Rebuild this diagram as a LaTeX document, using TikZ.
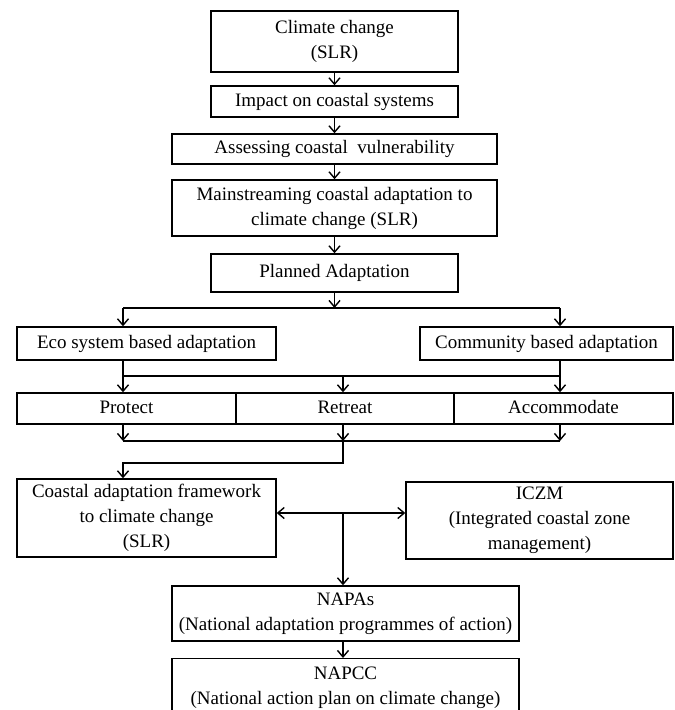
\documentclass[tikz,border=0pt]{standalone}
\usepackage{fontspec}
\setmainfont{Liberation Serif}
\usetikzlibrary{arrows.meta}
\tikzset{
  txt/.style={font=\fontsize{19}{25}\selectfont},
  box/.style={draw, line width=1.4pt, align=center, inner sep=0pt, txt},
  one/.style={text height=13pt, text depth=4pt},
  arr/.style={line width=1.4pt, -{Straight Barb[length=6.5pt,width=11pt,line width=1.4pt]}},
  ln/.style={line width=1.4pt}
}
\begin{document}
\begin{tikzpicture}[x=1pt,y=-1pt]
\useasboundingbox (0,0) rectangle (675,710);
\clip (0,0) rectangle (675,710);
\fill[white] (0,0) rectangle (675,710);
% boxes
\node[box, minimum width=247pt, minimum height=61pt] (cc) at (334.5,41.5) {Climate change\\(SLR)};
\node[box, one, minimum width=247pt, minimum height=31pt] (imp) at (334.5,101.5) {Impact on coastal systems};
\node[box, one, minimum width=325pt, minimum height=30pt] (ass) at (334.5,149) {Assessing coastal\ \ vulnerability};
\node[box, minimum width=325pt, minimum height=56pt] (main) at (334.5,208) {Mainstreaming coastal adaptation to\\climate change (SLR)};
\node[box, one, minimum width=247pt, minimum height=38pt] (plan) at (334.5,273) {Planned Adaptation};
\node[box, one, minimum width=259pt, minimum height=33pt] (eco) at (146.5,343.5) {Eco system based adaptation};
\node[box, one, minimum width=253pt, minimum height=33pt] (com) at (546.5,343.5) {Community based adaptation};
\node[box, one, minimum width=219pt, minimum height=31pt] (prot) at (126.5,408.5) {Protect};
\node[box, one, minimum width=218pt, minimum height=31pt] (retr) at (345,408.5) {Retreat};
\node[box, one, minimum width=219pt, minimum height=31pt] (acc) at (563.5,408.5) {Accommodate};
\node[box, minimum width=259pt, minimum height=78pt] (caf) at (146.5,518) {Coastal adaptation framework\\to climate change\\(SLR)};
\node[box, minimum width=267pt, minimum height=77pt] (iczm) at (539.5,520.5) {ICZM\\(Integrated coastal zone\\management)};
\node[box, minimum width=347pt, minimum height=55pt] (napa) at (345.5,613.5) {NAPAs\\(National adaptation programmes of action)};
\node[box, minimum width=347pt, minimum height=62pt, anchor=north] (napcc) at (345.5,658) {};
\node[txt, align=center, anchor=north] (napcct) at (345.5,663) {NAPCC\\(National action plan on climate change)};
% helper coordinates
\coordinate (y1) at (0,308);
\coordinate (y2) at (0,376);
\coordinate (y3) at (0,441);
\coordinate (y4) at (0,463);
\coordinate (xL) at (123,0);
\coordinate (xM) at (343,0);
\coordinate (xR) at (560,0);
\coordinate (dj) at (343,513);
% connectors
\draw[arr] (cc) -- (imp);
\draw[arr] (imp) -- (ass);
\draw[arr] (ass) -- (main);
\draw[arr] (main) -- (plan);
\draw[arr] (plan.south) -- (plan.south |- y1);
\draw[ln] (xL |- y1) -- (xR |- y1);
\draw[arr] (xL |- y1) -- (xL |- eco.north);
\draw[arr] (xR |- y1) -- (xR |- com.north);
\draw[arr] (xL |- eco.south) -- (xL |- prot.north);
\draw[arr] (xR |- com.south) -- (xR |- acc.north);
\draw[ln] (xL |- y2) -- (xR |- y2);
\draw[arr] (xM |- y2) -- (xM |- retr.north);
\draw[arr] (xL |- prot.south) -- (xL |- y3);
\draw[arr] (xM |- retr.south) -- (xM |- y3);
\draw[arr] (xR |- acc.south) -- (xR |- y3);
\draw[ln] (xL |- y3) -- (xR |- y3);
\draw[arr] (xM |- y3) -- (xM |- y4) -- (xL |- y4) -- (xL |- caf.north);
\draw[arr] (dj) -- (dj -| caf.east);
\draw[arr] (dj) -- (dj -| iczm.west);
\draw[arr] (dj) -- (dj |- napa.north);
\draw[arr] (napa.south -| xM) -- (napcc.north -| xM);
\end{tikzpicture}
\end{document}
